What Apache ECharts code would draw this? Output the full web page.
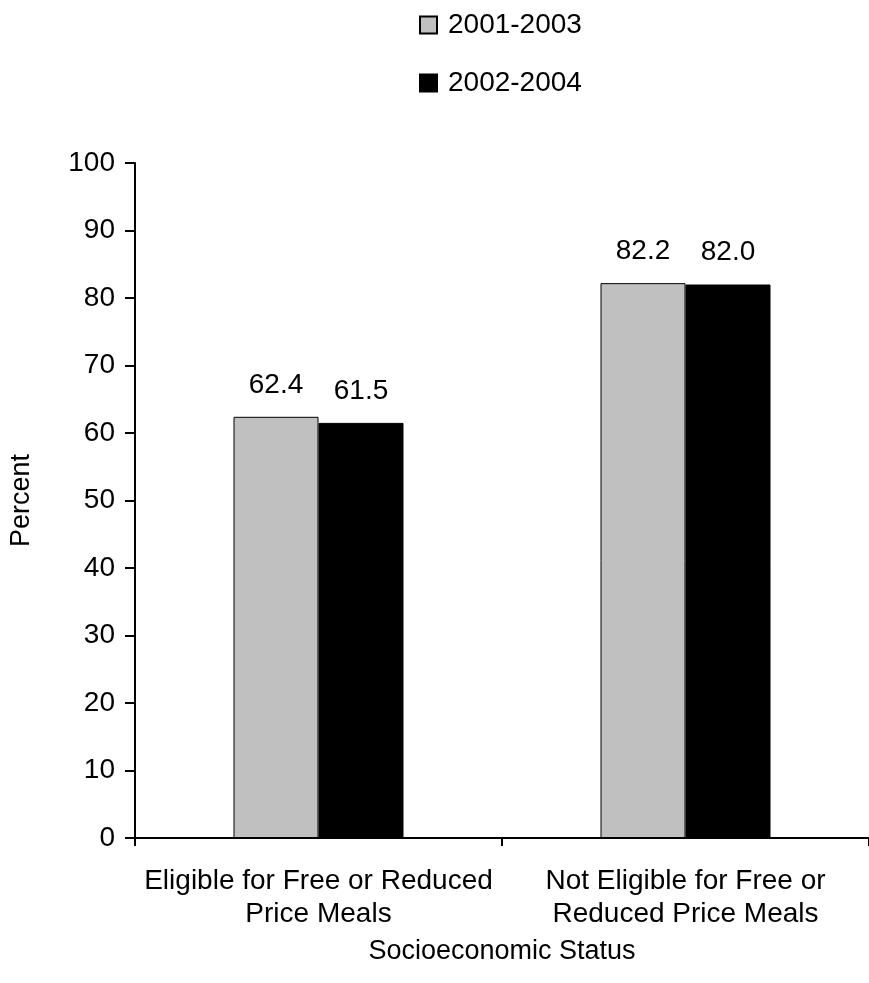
<!DOCTYPE html>
<html><head><meta charset="utf-8">
<script src="https://cdn.jsdelivr.net/npm/echarts@6/dist/echarts.min.js"></script>
<style>html,body{margin:0;padding:0;background:#fff}#c{width:869px;height:983px}</style>
</head><body><div id="c"></div>
<script>
const categories = ["Eligible for Free or Reduced\nPrice Meals", "Not Eligible for Free or\nReduced Price Meals"];
const seriesNames = ["2001-2003", "2002-2004"];
const values2001_2003 = [62.4, 82.2];
const values2002_2004 = [61.5, 82.0];
const yTicks = [0, 10, 20, 30, 40, 50, 60, 70, 80, 90, 100];

const font = "'Liberation Sans', Arial, sans-serif";
const fs = 28;
const chart = echarts.init(document.getElementById('c'));
chart.setOption({
  animation: false,
  textStyle: { fontFamily: font },
  legend: {
    orient: 'vertical', left: 414, top: 6, itemGap: 30,
    itemWidth: 17, itemHeight: 17, icon: 'rect',
    itemStyle: { borderColor: '#000', borderWidth: 2 },
    textStyle: { fontSize: fs, lineHeight: 28, color: '#000', fontFamily: font, padding: [0, 0, 0, 6] },
    data: seriesNames
  },
  grid: { left: 124, top: 163, width: 756, height: 675, containLabel: false },
  xAxis: {
    type: 'category', data: categories,
    name: 'Socioeconomic Status', nameLocation: 'middle', nameGap: 100,
    nameTextStyle: { fontSize: 27, color: '#000', fontFamily: font },
    axisLine: { lineStyle: { color: '#000', width: 2 } },
    axisTick: { show: true, length: 8, lineStyle: { color: '#000', width: 2 } },
    axisLabel: { fontSize: fs, color: '#000', margin: 27, lineHeight: 33, fontFamily: font, interval: 0 }
  },
  yAxis: {
    type: 'value', min: yTicks[0], max: yTicks[yTicks.length - 1], interval: 10,
    name: 'Percent', nameLocation: 'middle', nameGap: 100,
    nameTextStyle: { fontSize: 27, color: '#000', fontFamily: font },
    axisLine: { show: true, lineStyle: { color: '#000', width: 2 } },
    axisTick: { show: true, length: 10, lineStyle: { color: '#000', width: 2 } },
    axisLabel: { fontSize: fs, color: '#000', margin: 20, fontFamily: font },
    splitLine: { show: false }
  },
  series: [
    {
      name: seriesNames[0], type: 'bar', data: values2001_2003,
      barWidth: 85, barGap: '0%',
      itemStyle: { color: '#c0c0c0', borderColor: '#000', borderWidth: 1 },
      label: { show: true, position: 'top', distance: 18, fontSize: fs, color: '#000', fontFamily: font, formatter: p => p.value.toFixed(1) }
    },
    {
      name: seriesNames[1], type: 'bar', data: values2002_2004,
      barWidth: 85, barGap: '0%',
      itemStyle: { color: '#000', borderColor: '#000', borderWidth: 1 },
      label: { show: true, position: 'top', distance: 18, fontSize: fs, color: '#000', fontFamily: font, formatter: p => p.value.toFixed(1) }
    }
  ]
});
</script></body></html>
